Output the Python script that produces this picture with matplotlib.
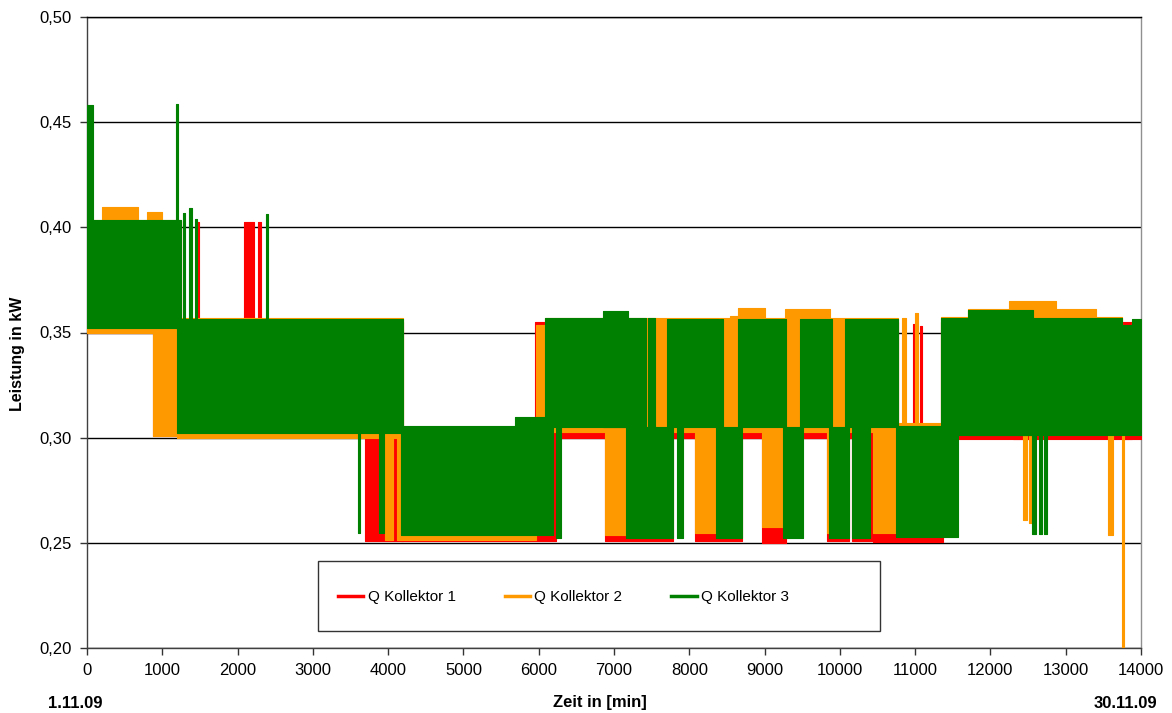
"""
Q Kollektor 1-3: Leistung über den November 2009 (Minutenwerte).

The minute data swings so fast between a low and a high level that it shows
up as solid bands, so each series is kept as a list of bands read off the
picture: (start min, end min, low kW, high kW).
"""

import matplotlib.pyplot as plt
from matplotlib.patches import Rectangle
from matplotlib.ticker import FuncFormatter, MultipleLocator

# (t0, t1, lo, hi) per band, minutes / kW
red_bands = [
    (0, 1250, 0.350, 0.403),
    (880, 1200, 0.301, 0.352),
    (1200, 3700, 0.302, 0.355),
    (1460, 1490, 0.352, 0.4025),
    (2085, 2220, 0.352, 0.4025),
    (2270, 2310, 0.352, 0.4025),
    (3690, 4200, 0.251, 0.355),
    (4170, 6190, 0.251, 0.305),
    (5950, 6100, 0.302, 0.355),
    (6100, 10770, 0.300, 0.355),
    (11343, 14000, 0.2995, 0.355),
    (6190, 6230, 0.251, 0.305),
    (6880, 7785, 0.251, 0.305),
    (8075, 8700, 0.251, 0.305),
    (8965, 9285, 0.250, 0.305),
    (9830, 10120, 0.251, 0.305),
    (10160, 10530, 0.251, 0.305),
    (10440, 11370, 0.2505, 0.305),
    (10975, 11000, 0.305, 0.354),
    (11060, 11090, 0.305, 0.353),
    (12300, 12590, 0.2995, 0.308),
    (13750, 13880, 0.2995, 0.3545),
]

orange_bands = [
    (0, 1250, 0.350, 0.4035),
    (200, 680, 0.352, 0.4095),
    (800, 1000, 0.352, 0.4075),
    (880, 1200, 0.301, 0.355),
    (1200, 4200, 0.300, 0.357),
    (3960, 4065, 0.2513, 0.305),
    (4115, 4185, 0.2513, 0.305),
    (4170, 5965, 0.2515, 0.305),
    (5965, 6083, 0.305, 0.3535),
    (6083, 8540, 0.3025, 0.357),
    (6880, 7040, 0.2537, 0.3075),
    (7040, 7160, 0.2537, 0.305),
    (8540, 8650, 0.3025, 0.358),
    (8650, 9000, 0.3025, 0.3616),
    (9000, 9270, 0.3025, 0.357),
    (9270, 9870, 0.3025, 0.3612),
    (9870, 10770, 0.3025, 0.357),
    (8075, 8355, 0.2546, 0.305),
    (8965, 9245, 0.2575, 0.305),
    (9830, 9870, 0.2546, 0.305),
    (10440, 11343, 0.2546, 0.307),
    (10825, 10880, 0.305, 0.357),
    (11000, 11040, 0.305, 0.3592),
    (11343, 11700, 0.3025, 0.3575),
    (11700, 12246, 0.3025, 0.3611),
    (12246, 12870, 0.3025, 0.3650),
    (12870, 13400, 0.3025, 0.361),
    (13400, 13750, 0.3025, 0.3574),
    (13880, 14000, 0.3025, 0.355),
    (12430, 12485, 0.2608, 0.305),
    (12515, 12550, 0.2594, 0.305),
    (13560, 13625, 0.2537, 0.305),
    (13745, 13775, 0.2004, 0.305),
]

green_bands = [
    (0, 80, 0.352, 0.458),
    (80, 1250, 0.352, 0.4035),
    (1185, 1215, 0.352, 0.4586),
    (1195, 4200, 0.302, 0.3565),
    (1270, 1300, 0.3565, 0.407),
    (1360, 1390, 0.3565, 0.409),
    (1440, 1465, 0.3565, 0.404),
    (2380, 2410, 0.3565, 0.4065),
    (3600, 3625, 0.2546, 0.305),
    (3880, 3940, 0.2546, 0.305),
    (4170, 5685, 0.2537, 0.3055),
    (5685, 6190, 0.2537, 0.310),
    (6083, 7425, 0.305, 0.357),
    (6855, 7185, 0.305, 0.360),
    (6230, 6295, 0.2523, 0.305),
    (7160, 7785, 0.2523, 0.305),
    (7835, 7915, 0.2523, 0.305),
    (7450, 7545, 0.305, 0.357),
    (7700, 8395, 0.305, 0.3565),
    (8410, 8450, 0.305, 0.3565),
    (8355, 8700, 0.2523, 0.305),
    (8650, 9285, 0.305, 0.3565),
    (9245, 9510, 0.2523, 0.305),
    (9470, 9900, 0.305, 0.3565),
    (9855, 10120, 0.2523, 0.305),
    (10068, 10770, 0.305, 0.3565),
    (10160, 10400, 0.2523, 0.305),
    (10745, 11570, 0.2527, 0.3055),
    (11343, 13750, 0.3012, 0.357),
    (13750, 13880, 0.3012, 0.3535),
    (13880, 14000, 0.3012, 0.3565),
    (11700, 12565, 0.3012, 0.3605),
    (12550, 12600, 0.254, 0.305),
    (12650, 12685, 0.254, 0.305),
    (12710, 12750, 0.254, 0.305),
]

series = [
    ("Q Kollektor 1", "#FF0000", red_bands),
    ("Q Kollektor 2", "#FF9900", orange_bands),
    ("Q Kollektor 3", "#008000", green_bands),
]

plt.rcParams["font.family"] = ["Liberation Sans", "DejaVu Sans"]

fig = plt.figure(figsize=(11.72, 7.13), dpi=100)
ax = fig.add_axes([87 / 1172, 65 / 713, 1054 / 1172, 631 / 713])

handles = []
for name, color, bands in series:
    for t0, t1, lo, hi in bands:
        ax.fill_between([t0, t1], lo, hi, color=color, lw=0.8, zorder=3)
    (h,) = ax.plot([], [], color=color, lw=2.5, label=name)
    handles.append(h)

ax.set_xlim(0, 14000)
ax.set_ylim(0.20, 0.50)
ax.xaxis.set_major_locator(MultipleLocator(1000))
ax.yaxis.set_major_locator(MultipleLocator(0.05))
ax.yaxis.set_major_formatter(FuncFormatter(lambda v, _: f"{v:.2f}".replace(".", ",")))
ax.tick_params(direction="out", length=5, width=1, labelsize=12, color="#333333", pad=6)

ax.grid(True, axis="y", color="black", lw=1, zorder=1)
ax.set_axisbelow(True)
for side, col in [("left", "#404040"), ("bottom", "#404040"), ("right", "#909090"), ("top", "black")]:
    ax.spines[side].set_color(col)
    ax.spines[side].set_linewidth(1)

fig.text(18 / 1172, 1 - 354 / 713, "Leistung in kW", rotation=90, ha="center", va="center",
         fontsize=11.5, fontweight="bold")
fig.text(600 / 1172, 1 - 703 / 713, "Zeit in [min]", ha="center", va="center",
         fontsize=12, fontweight="bold")
fig.text(75 / 1172, 1 - 703 / 713, "1.11.09", ha="center", va="center",
         fontsize=12, fontweight="bold")
fig.text(1125 / 1172, 1 - 703 / 713, "30.11.09", ha="center", va="center",
         fontsize=12, fontweight="bold")

# legend box drawn as its own frame, entries placed inside
fig.patches.append(Rectangle((318 / 1172, 1 - 631 / 713), 562 / 1172, 70 / 713,
                             transform=fig.transFigure, facecolor="white",
                             edgecolor="#333333", lw=1, zorder=5))
leg = fig.legend(handles=handles, loc="center left", bbox_to_anchor=(338 / 1172, 1 - 597 / 713),
                 ncol=3, frameon=False, fontsize=11, borderpad=0, borderaxespad=0,
                 handlelength=1.65, handletextpad=0.3, columnspacing=3.2)
leg.set_zorder(6)

fig.savefig("out.png", dpi=100)
